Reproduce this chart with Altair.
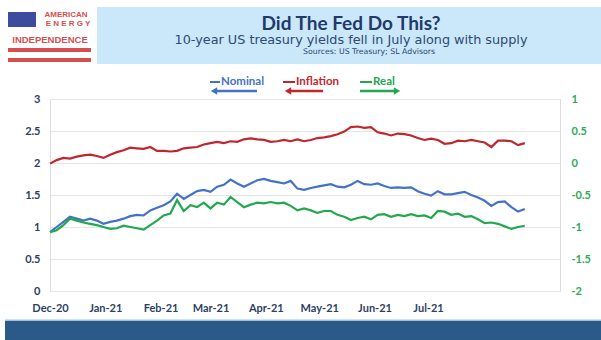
import altair as alt
import pandas as pd

# ---------------- data ----------------
nominal = [0.92, 1.00, 1.08, 1.16, 1.13, 1.10, 1.13, 1.10, 1.05, 1.08, 1.10, 1.13, 1.17, 1.19,
           1.18, 1.26, 1.30, 1.34, 1.40, 1.52, 1.44, 1.50, 1.56, 1.58, 1.55, 1.63, 1.66, 1.74,
           1.68, 1.63, 1.68, 1.73, 1.75, 1.72, 1.70, 1.68, 1.72, 1.60, 1.58, 1.61, 1.63,
           1.65, 1.67, 1.63, 1.62, 1.66, 1.72, 1.67, 1.66, 1.68, 1.64, 1.61, 1.62, 1.61, 1.62,
           1.56, 1.52, 1.49, 1.56, 1.51, 1.51, 1.53, 1.55, 1.50, 1.46, 1.41, 1.33, 1.39, 1.40,
           1.31, 1.24, 1.28]
inflation = [1.99, 2.045, 2.08, 2.07, 2.10, 2.12, 2.13, 2.11, 2.08, 2.13, 2.17, 2.20, 2.24, 2.23,
             2.22, 2.25, 2.19, 2.19, 2.18, 2.19, 2.23, 2.24, 2.25, 2.29, 2.31, 2.33, 2.31, 2.34,
             2.33, 2.37, 2.385, 2.37, 2.36, 2.33, 2.34, 2.36, 2.34, 2.37, 2.34, 2.36, 2.39,
             2.40, 2.42, 2.45, 2.49, 2.56, 2.57, 2.55, 2.56, 2.48, 2.46, 2.43, 2.46, 2.45, 2.43,
             2.39, 2.36, 2.38, 2.36, 2.30, 2.31, 2.35, 2.34, 2.36, 2.34, 2.32, 2.25, 2.35, 2.35,
             2.34, 2.28, 2.31]
real = [-1.08, -1.05, -0.97, -0.87, -0.90, -0.93, -0.95, -0.97, -1.00, -1.03, -1.02, -0.98, -1.00,
        -1.02, -1.04, -0.97, -0.90, -0.82, -0.79, -0.58, -0.75, -0.66, -0.69, -0.62, -0.71, -0.62,
        -0.65, -0.53, -0.61, -0.69, -0.65, -0.62, -0.63, -0.61, -0.63, -0.62, -0.67, -0.74, -0.71,
        -0.74, -0.78,
        -0.75, -0.75, -0.81, -0.84, -0.89, -0.86, -0.84, -0.88, -0.81, -0.80, -0.84, -0.81, -0.83,
        -0.80, -0.83, -0.82, -0.86, -0.75, -0.76, -0.81, -0.79, -0.84, -0.83, -0.88, -0.94, -0.93,
        -0.95, -0.99, -1.03, -1.00, -0.98]

start_date = "2020-12-01"
step = pd.Timedelta(hours=90)
x_tick_months = [(2020, 12), (2021, 1), (2021, 2), (2021, 3), (2021, 4), (2021, 5), (2021, 6), (2021, 7)]
left_ticks = [0, 0.5, 1, 1.5, 2, 2.5, 3]
right_ticks = [-2, -1.5, -1, -0.5, 0, 0.5, 1]

series_names = ["Nominal", "Inflation", "Real"]
series_colors = ["#4472c4", "#c0262d", "#22a84f"]

title_text = "Did The Fed Do This?"
subtitle_text = "10-year US treasury yields fell in July along with supply"
source_text = "Sources: US Treasury; SL Advisors"

# ---------------- frames ----------------
dates = pd.date_range(start_date, periods=len(nominal), freq=step)
left_df = pd.concat([
    pd.DataFrame({"date": dates, "value": nominal, "series": "Nominal"}),
    pd.DataFrame({"date": dates, "value": inflation, "series": "Inflation"}),
])
right_df = pd.DataFrame({"date": dates, "value": real, "series": "Real"})
one = pd.DataFrame({"k": [0]})

W, H = 510, 192
PAD_L, PAD_T = 50, 99
FONT = "Lato"
SFONT = "DejaVu Sans"
NAVY = "#2e3f66"

xscale = alt.Scale(domain=[alt.DateTime(year=2020, month=12, date=1),
                           alt.DateTime(year=2021, month=9, date=13)])
xaxis = alt.Axis(values=[alt.DateTime(year=y, month=m, date=1) for y, m in x_tick_months],
                 format="%b-%y", labelFont=FONT, labelFontWeight="bold", labelFontSize=11,
                 labelColor=NAVY, ticks=False, domain=False, grid=False, labelPadding=11,
                 labelFlush=False, title=None)
lab_expr = "'' + datum.value"

left = alt.Chart(left_df).mark_line(strokeWidth=2.2).encode(
    x=alt.X("date:T", scale=xscale, axis=xaxis),
    y=alt.Y("value:Q", scale=alt.Scale(domain=[0, 3]),
            axis=alt.Axis(values=left_ticks, labelExpr=lab_expr, grid=True, gridColor="#e4e4e4",
                          domain=False, ticks=False, labelPadding=10, labelFont=FONT,
                          labelFontWeight="bold", labelFontSize=11, labelColor=NAVY, title=None)),
    color=alt.Color("series:N", scale=alt.Scale(domain=series_names, range=series_colors), legend=None),
    detail="series:N",
)

right = alt.Chart(right_df).mark_line(strokeWidth=2.2, color=series_colors[2]).encode(
    x=alt.X("date:T", scale=xscale, axis=xaxis),
    y=alt.Y("value:Q", scale=alt.Scale(domain=[-2, 1]),
            axis=alt.Axis(orient="right", values=right_ticks, labelExpr=lab_expr, grid=False,
                          domain=False, ticks=False, labelPadding=11, labelFont=FONT,
                          labelFontWeight="bold", labelFontSize=11, labelColor="#2eaa55",
                          title=None)),
)


def px(xc):
    return xc - PAD_L


def py(yc):
    return yc - PAD_T


def rect(x1, x2, y1, y2, color):
    return alt.Chart(one).mark_rect(color=color).encode(
        x=alt.value(px(x1)), x2=alt.value(px(x2)), y=alt.value(py(y1)), y2=alt.value(py(y2)))


def text(t, xc, yc, size, color, weight="normal", align="center", font=FONT):
    return alt.Chart(one).mark_text(align=align, baseline="middle", fontSize=size, color=color,
                                    fontWeight=weight, font=font).encode(
        x=alt.value(px(xc)), y=alt.value(py(yc)), text=alt.value(t))


def hline(x1, x2, yc, color, w):
    return alt.Chart(one).mark_rule(color=color, strokeWidth=w).encode(
        x=alt.value(px(x1)), x2=alt.value(px(x2)), y=alt.value(py(yc)))


def tri(xc, yc, shape, color):
    return alt.Chart(one).mark_point(shape=shape, filled=True, size=55, color=color, opacity=1).encode(
        x=alt.value(px(xc)), y=alt.value(py(yc)))


deco = [
    # header band
    rect(97, 601, 7, 64, "#cbe7fa"),
    text(title_text, 351, 24, 19, "#1f3a6b", weight="bold", font=FONT),
    text(subtitle_text, 351, 40, 12.8, "#2c4a72", font=SFONT),
    text(source_text, 369, 51.5, 7.8, "#2c4a72", font=SFONT),
    # logo
    rect(8, 36, 12, 27, "#3d4c9e"),
    text("AMERICAN", 66, 15, 8, "#d4504f", weight="bold", font="Liberation Sans"),
    text("E N E R G Y", 68, 24, 8, "#d4504f", weight="bold", font="Liberation Sans"),
    text("INDEPENDENCE", 50, 39.5, 9.5, "#d4504f", weight="bold", font="Liberation Sans"),
    rect(8, 91, 48, 52, "#d4504f"),
    rect(8, 91, 58, 62, "#d4504f"),
    # legend
    hline(210, 220, 82, series_colors[0], 2),
    text("Nominal", 221, 82, 11.5, series_colors[0], weight="bold", align="left"),
    hline(216, 257, 91, series_colors[0], 2.5),
    tri(214, 91, "triangle-left", series_colors[0]),
    hline(283, 295, 82, series_colors[1], 2),
    text("Inflation", 296, 82, 11.5, series_colors[1], weight="bold", align="left"),
    hline(290, 323, 91, series_colors[1], 2.5),
    tri(288, 91, "triangle-left", series_colors[1]),
    hline(360, 372, 82, series_colors[2], 2),
    text("Real", 373, 82, 11.5, series_colors[2], weight="bold", align="left"),
    hline(360, 395, 91, series_colors[2], 2.5),
    tri(397, 91, "triangle-right", series_colors[2]),
    # bottom band
    rect(5, 601, 319.5, 321, "#a8c2dc"),
    rect(5, 601, 321, 340, "#2b5a88"),
]

chart = alt.layer(left, right, *deco).resolve_scale(y="independent").properties(
    width=W, height=H,
    autosize=alt.AutoSizeParams(type="none"),
    padding={"left": PAD_L, "top": PAD_T, "right": 601 - PAD_L - W, "bottom": 340 - PAD_T - H},
).configure_view(stroke=None).configure(background="white")

chart.save("out.html", embed_options={"renderer": "svg", "actions": False})
